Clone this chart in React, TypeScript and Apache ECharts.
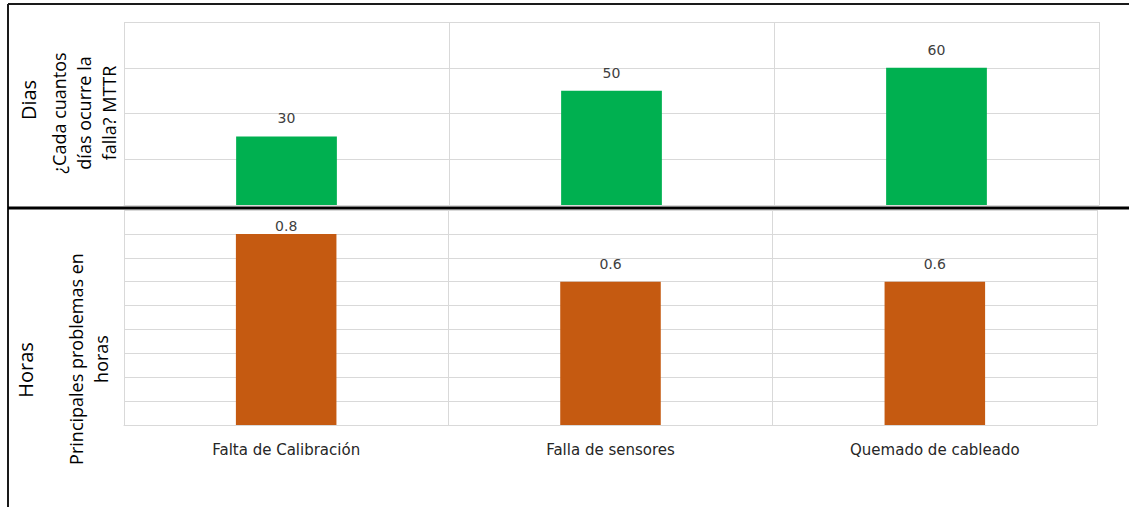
import React, { useEffect, useRef } from "react";
import * as echarts from "echarts";

const categories = ["Falta de Calibración", "Falla de sensores", "Quemado de cableado"];
const diasValues = [30, 50, 60];
const horasValues = [0.8, 0.6, 0.6];
const diasAxis = { min: 0, max: 80, interval: 20 };
const horasAxis = { min: 0, max: 0.9, interval: 0.1 };
const diasTitle = "Dias";
const diasSubtitle = "¿Cada cuantos\ndías ocurre la\nfalla? MTTR";
const horasTitle = "Horas";
const horasSubtitle = "Principales problemas en\nhoras";

const GRID = "#d9d9d9";

export default function App() {
  const ref = useRef<HTMLDivElement>(null);
  useEffect(() => {
    const chart = echarts.init(ref.current!, null, { renderer: "svg" });
    const leftFont = "'Open Sans', sans-serif";
    const labelStyle = {
      show: true,
      position: "top",
      distance: 11,
      color: "#404040",
      fontSize: 14,
      fontFamily: "'DejaVu Sans', sans-serif",
    };
    chart.setOption({
      animation: false,
      backgroundColor: "#fff",
      grid: [
        { left: 124, top: 22, width: 975, height: 183 },
        { left: 124, top: 210, width: 973, height: 215 },
      ],
      xAxis: [
        {
          gridIndex: 0,
          type: "category",
          data: categories,
          axisLabel: { show: false },
          axisTick: { show: false },
          axisLine: { show: true, lineStyle: { color: GRID, width: 1 } },
          splitLine: { show: true, lineStyle: { color: GRID, width: 1 } },
        },
        {
          gridIndex: 1,
          type: "category",
          data: categories,
          axisTick: { show: false },
          axisLine: { show: true, lineStyle: { color: GRID, width: 1 } },
          splitLine: { show: true, lineStyle: { color: GRID, width: 1 } },
          axisLabel: {
            color: "#262626",
            fontSize: 15,
            fontFamily: "'DejaVu Sans', sans-serif",
            margin: 17,
          },
        },
      ],
      yAxis: [
        {
          gridIndex: 0,
          type: "value",
          ...diasAxis,
          axisLabel: { show: false },
          axisLine: { show: false },
          axisTick: { show: false },
          splitLine: { show: true, lineStyle: { color: GRID, width: 1 } },
        },
        {
          gridIndex: 1,
          type: "value",
          ...horasAxis,
          axisLabel: { show: false },
          axisLine: { show: false },
          axisTick: { show: false },
          splitLine: { show: true, lineStyle: { color: GRID, width: 1 } },
        },
      ],
      series: [
        {
          type: "bar",
          xAxisIndex: 0,
          yAxisIndex: 0,
          data: diasValues,
          barWidth: "31%",
          itemStyle: { color: "#00B050" },
          label: labelStyle,
        },
        {
          type: "bar",
          xAxisIndex: 1,
          yAxisIndex: 1,
          data: horasValues.map((v, i) =>
            i === 0 ? { value: v, label: { distance: 1 } } : v
          ),
          barWidth: "31%",
          itemStyle: { color: "#C55A11" },
          label: labelStyle,
        },
      ],
      graphic: [
        { type: "line", shape: { x1: 8, y1: 4, x2: 1129, y2: 4 }, style: { stroke: "#1a1a1a", lineWidth: 2 } },
        { type: "line", shape: { x1: 8, y1: 4, x2: 8, y2: 507 }, style: { stroke: "#1a1a1a", lineWidth: 2 } },
        { type: "line", shape: { x1: 8, y1: 208, x2: 1129, y2: 208 }, style: { stroke: "#000", lineWidth: 3 } },
        {
          type: "text", x: 28, y: 100, rotation: Math.PI / 2,
          style: { text: diasTitle, fill: "#000", font: `20px ${leftFont}`, align: "center", verticalAlign: "middle" },
        },
        {
          type: "text", x: 84, y: 113, rotation: Math.PI / 2,
          style: { text: diasSubtitle, fill: "#000", font: `18px ${leftFont}`, lineHeight: 25, align: "center", verticalAlign: "middle" },
        },
        {
          type: "text", x: 25, y: 370, rotation: Math.PI / 2,
          style: { text: horasTitle, fill: "#000", font: `20px ${leftFont}`, align: "center", verticalAlign: "middle" },
        },
        {
          type: "text", x: 88, y: 359, rotation: Math.PI / 2,
          style: { text: horasSubtitle, fill: "#000", font: `18px ${leftFont}`, lineHeight: 25, align: "center", verticalAlign: "middle" },
        },
      ],
    });
    return () => chart.dispose();
  }, []);
  return (
    <div
      ref={ref}
      style={{ position: "absolute", left: 0, top: 0, width: 1129, height: 507 }}
    />
  );
}
